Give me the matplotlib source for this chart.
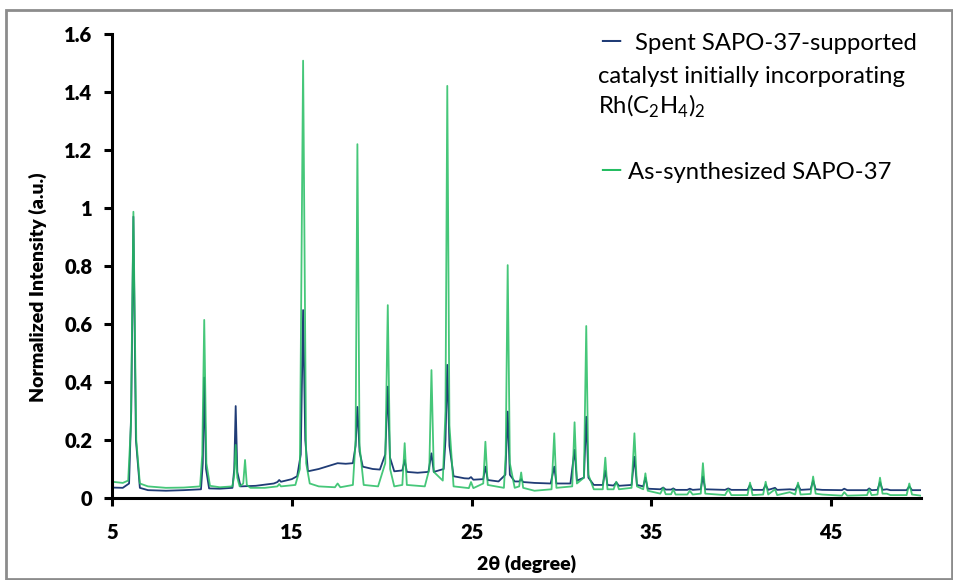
import matplotlib
matplotlib.use('Agg')
import matplotlib.pyplot as plt
from matplotlib.patches import Rectangle

plt.rcParams['font.family'] = ['Lato', 'DejaVu Sans']
plt.rcParams['mathtext.fontset'] = 'custom'
plt.rcParams['mathtext.rm'] = 'Lato'

# XRD patterns (2theta in degrees, normalized intensity)
spent_x = [5.0, 5.6, 5.95, 6.07, 6.19, 6.33, 6.55, 7.0, 8.0, 9.0, 9.95, 10.05, 10.13, 10.23, 10.4,
           11.0, 11.7, 11.8, 11.88, 11.97, 12.15, 13.0, 14.0, 14.2, 14.3, 14.4, 15.0, 15.3, 15.5,
           15.63, 15.75, 15.9, 16.5, 17.3, 17.55, 18.0, 18.4, 18.55, 18.65, 18.77, 18.95, 19.5,
           19.9, 20.2, 20.34, 20.46, 20.7, 21.15, 21.28, 21.4, 22.0, 22.6, 22.77, 22.9, 23.45,
           23.55, 23.65, 23.77, 24.0, 24.6, 24.85, 24.97, 25.1, 25.65, 25.77, 25.9, 26.5, 26.88,
           27.01, 27.13, 27.4, 27.65, 27.76, 27.87, 28.5, 29.4, 29.6, 29.72, 30.5, 30.73, 30.86,
           31.25, 31.38, 31.5, 31.8, 32.3, 32.44, 32.56, 32.9, 33.05, 33.2, 33.9, 34.06, 34.2,
           34.55, 34.67, 34.8, 35.5, 35.66, 35.8, 36.1, 36.22, 36.35, 37.0, 37.14, 37.3, 37.75,
           37.87, 38.0, 39.1, 39.28, 39.45, 40.35, 40.49, 40.63, 41.22, 41.36, 41.5, 41.88, 42.0,
           42.7, 43.0, 43.16, 43.3, 43.86, 44.0, 44.14, 44.5, 45.6, 45.73, 45.9, 47.0, 47.12,
           47.25, 47.58, 47.72, 47.86, 48.1, 48.3, 49.2, 49.35, 49.5, 50.0]
spent_y = [0.036, 0.035, 0.05, 0.3, 0.97, 0.2, 0.035, 0.027, 0.025, 0.027, 0.03, 0.12, 0.415, 0.1, 0.033,
           0.032, 0.035, 0.1, 0.317, 0.09, 0.04, 0.042, 0.05, 0.055, 0.062, 0.056, 0.065, 0.075, 0.15,
           0.648, 0.2, 0.092, 0.1, 0.115, 0.12, 0.118, 0.12, 0.18, 0.314, 0.16, 0.108, 0.1,
           0.098, 0.15, 0.384, 0.14, 0.092, 0.095, 0.131, 0.09, 0.087, 0.09, 0.154, 0.09, 0.1,
           0.2, 0.459, 0.18, 0.075, 0.068, 0.067, 0.072, 0.063, 0.065, 0.108, 0.062, 0.057, 0.08,
           0.298, 0.08, 0.057, 0.057, 0.065, 0.055, 0.052, 0.05, 0.108, 0.05, 0.05, 0.166, 0.06,
           0.07, 0.28, 0.07, 0.045, 0.045, 0.094, 0.045, 0.043, 0.054, 0.042, 0.045, 0.142, 0.045,
           0.04, 0.07, 0.032, 0.03, 0.036, 0.029, 0.029, 0.033, 0.028, 0.028, 0.032, 0.028, 0.03,
           0.074, 0.03, 0.028, 0.033, 0.028, 0.028, 0.045, 0.028, 0.028, 0.045, 0.028, 0.035, 0.028,
           0.03, 0.028, 0.045, 0.028, 0.03, 0.06, 0.03, 0.028, 0.027, 0.032, 0.027, 0.027, 0.033,
           0.027, 0.028, 0.055, 0.028, 0.03, 0.027, 0.027, 0.04, 0.027, 0.027]

fresh_x = [5.0, 5.6, 5.9, 6.05, 6.19, 6.35, 6.55, 7.0, 8.0, 9.0, 9.9, 10.02, 10.13, 10.25, 10.45,
           11.0, 11.7, 11.8, 11.88, 11.97, 12.1, 12.3, 12.4, 12.5, 12.7, 13.5, 14.2, 14.3, 14.4,
           15.2, 15.45, 15.63, 15.8, 16.0, 16.5, 17.4, 17.55, 17.7, 18.4, 18.55, 18.65, 18.77,
           19.0, 19.8, 20.2, 20.34, 20.47, 20.7, 21.15, 21.28, 21.4, 22.4, 22.65, 22.77, 22.9,
           23.4, 23.55, 23.65, 23.77, 24.0, 24.85, 24.97, 25.1, 25.65, 25.77, 25.9, 26.8, 26.9,
           27.01, 27.13, 27.4, 27.65, 27.76, 27.87, 28.5, 29.45, 29.6, 29.72, 30.6, 30.73, 30.86,
           31.25, 31.38, 31.5, 31.8, 32.3, 32.44, 32.56, 32.9, 33.05, 33.2, 33.9, 34.06, 34.2,
           34.55, 34.67, 34.8, 35.5, 35.66, 35.8, 36.1, 36.22, 36.35, 37.0, 37.14, 37.3, 37.75,
           37.87, 38.0, 39.1, 39.28, 39.45, 40.35, 40.49, 40.63, 41.22, 41.36, 41.5, 41.88, 42.0,
           42.7, 43.0, 43.16, 43.3, 43.86, 44.0, 44.14, 44.5, 45.6, 45.73, 45.9, 47.0, 47.12,
           47.25, 47.58, 47.72, 47.86, 48.1, 48.3, 49.2, 49.35, 49.5, 50.0]
fresh_y = [0.056, 0.052, 0.06, 0.25, 0.987, 0.2, 0.05, 0.04, 0.035, 0.036, 0.04, 0.15, 0.614, 0.12, 0.042,
           0.037, 0.04, 0.08, 0.183, 0.07, 0.04, 0.05, 0.131, 0.045, 0.035, 0.035, 0.04, 0.048, 0.04,
           0.045, 0.1, 1.508, 0.12, 0.05, 0.04, 0.037, 0.05, 0.037, 0.045, 0.2, 1.22, 0.18,
           0.045, 0.04, 0.12, 0.665, 0.1, 0.04, 0.045, 0.189, 0.045, 0.04, 0.1, 0.441, 0.09,
           0.06, 0.3, 1.421, 0.25, 0.04, 0.034, 0.055, 0.034, 0.05, 0.194, 0.045, 0.035, 0.15,
           0.803, 0.12, 0.035, 0.04, 0.088, 0.035, 0.025, 0.03, 0.223, 0.035, 0.04, 0.261, 0.05,
           0.07, 0.593, 0.08, 0.03, 0.03, 0.139, 0.03, 0.03, 0.056, 0.03, 0.035, 0.223, 0.04,
           0.03, 0.085, 0.025, 0.015, 0.035, 0.013, 0.013, 0.03, 0.012, 0.012, 0.025, 0.012, 0.015,
           0.12, 0.015, 0.01, 0.03, 0.01, 0.01, 0.053, 0.01, 0.012, 0.056, 0.012, 0.03, 0.01,
           0.02, 0.012, 0.053, 0.012, 0.014, 0.074, 0.015, 0.012, 0.008, 0.02, 0.008, 0.01, 0.03,
           0.01, 0.012, 0.07, 0.015, 0.015, 0.01, 0.01, 0.05, 0.012, 0.008]

x_ticks = [5, 15, 25, 35, 45]
y_ticks = [0, 0.2, 0.4, 0.6, 0.8, 1.0, 1.2, 1.4, 1.6]
y_ticklabels = ['0', '0.2', '0.4', '0.6', '0.8', '1', '1.2', '1.4', '1.6']

navy = '#203c76'
green = '#25bd62'

fig = plt.figure(figsize=(9.54, 5.8), dpi=100)
ax = fig.add_axes([0.1174, 0.1414, 0.8480, 0.8000])

ax.plot(spent_x, spent_y, color=navy, lw=1.3)
ax.plot(fresh_x, fresh_y, color=green, lw=1.3, alpha=0.85)

ax.set_xlim(5, 50)
ax.set_ylim(0, 1.6)
ax.set_xticks(x_ticks)
ax.set_yticks(y_ticks)
ax.set_yticklabels(y_ticklabels)
for lab in ax.get_xticklabels() + ax.get_yticklabels():
    lab.set_fontweight('heavy')
    lab.set_fontsize(14.5)
ax.tick_params(axis='both', direction='out', length=6, width=2.2, pad=8)
ax.tick_params(axis='x', pad=12)

for s in ['top', 'right']:
    ax.spines[s].set_visible(False)
for s in ['left', 'bottom']:
    ax.spines[s].set_linewidth(2.2)

ax.set_xlabel('2θ (degree)', fontsize=14, fontweight='heavy')
ax.xaxis.set_label_coords(0.513, -0.123)
ax.set_ylabel('Normalized Intensity (a.u.)', fontsize=14, fontweight='heavy')
ax.yaxis.set_label_coords(-0.08, 0.455)

# legend written as text block, like the original
fs = 17.2
ax.text(0.602, 0.965, '—', color=navy, fontsize=21, transform=ax.transAxes, va='baseline')
ax.text(0.647, 0.965, 'Spent SAPO-37-supported', fontsize=fs, transform=ax.transAxes, va='baseline')
ax.text(0.601, 0.895, 'catalyst initially incorporating', fontsize=fs, transform=ax.transAxes, va='baseline')
ax.text(0.601, 0.827, r'Rh(C$_\mathregular{2}$H$_\mathregular{4}$)$_\mathregular{2}$', fontsize=fs,
        transform=ax.transAxes, va='baseline')
ax.text(0.602, 0.687, '—', color=green, fontsize=21, transform=ax.transAxes, va='baseline')
ax.text(0.638, 0.687, 'As-synthesized SAPO-37', fontsize=fs, transform=ax.transAxes, va='baseline')

# grey frame around the whole picture
fig.patches.append(Rectangle((0.006, 0.002), 0.992, 0.98, transform=fig.transFigure,
                             fill=False, edgecolor='#8c8c8c', lw=2))

fig.savefig('out.png', dpi=100)
